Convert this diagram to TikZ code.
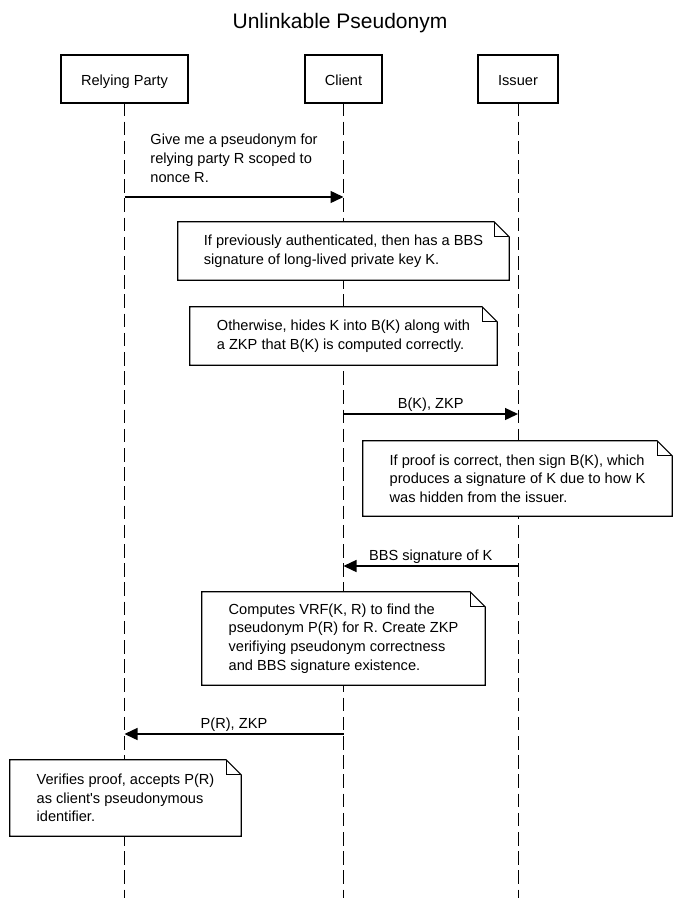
\documentclass[tikz,border=0pt]{standalone}
\usepackage{fontspec}
\setmainfont{Liberation Sans}
\usetikzlibrary{arrows.meta, positioning}

% outline of a note with a folded corner
\newcommand{\notefold}[1]{%
  \draw[notes] (#1.south west) -- (#1.north west) -- ([xshift=-15pt]#1.north east)
    -- ([yshift=-15pt]#1.north east) -- (#1.south east) -- cycle;
  \draw[notes] ([xshift=-15pt]#1.north east) |- ([yshift=-15pt]#1.north east);
}

\begin{document}
\begin{tikzpicture}[
        x=1pt, y=-1pt,
        font=\fontsize{14.6}{18.6}\selectfont,
        actor/.style={draw, line width=1.8pt, minimum height=48pt, inner xsep=20pt, text height=12pt, text depth=0pt},
        life/.style={line width=1pt, dash pattern=on 13.6pt off 5.6pt, dash phase=1.5pt},
        msg/.style={-{Triangle[length=13pt, width=12pt]}, line width=1.4pt},
        lbl/.style={anchor=base, yshift=6pt, inner sep=0pt, align=left},
        notes/.style={line width=1.2pt},
        notebox/.style={fill=white, align=left, inner sep=0pt}
    ]
        \useasboundingbox (0,0) rectangle (680,898);
        \node[font=\fontsize{21}{24}\selectfont, anchor=base] (title) at (340,28) {Unlinkable Pseudonym};

        % participants
        \node[actor] (rp) at (124.5,79) {Relying Party};
        \node[actor] (cl) at (343.5,79) {Client};
        \node[actor] (is) at (518,79)   {Issuer};

        \coordinate (bottom) at (0,898);
        \draw[life] (rp.south) -- (rp.south |- bottom);
        \draw[life] (cl.south) -- (cl.south |- bottom);
        \draw[life] (is.south) -- (is.south |- bottom);

        % messages
        \coordinate (m1) at (0,197);
        \coordinate (m2) at (0,414);
        \coordinate (m3) at (0,566);
        \coordinate (m4) at (0,734);
        \draw[msg] (rp |- m1) -- node[lbl, anchor=south, yshift=8pt]{Give me a pseudonym for\\relying party R scoped to\\nonce R.} (cl |- m1);
        \draw[msg] (cl |- m2) -- node[lbl]{B(K), ZKP} (is |- m2);
        \draw[msg] (is |- m3) -- node[lbl]{BBS signature of K} (cl |- m3);
        \draw[msg] (cl |- m4) -- node[lbl]{P(R), ZKP} (rp |- m4);

        % notes
        \node[notebox, minimum width=331pt, minimum height=58pt] (n1) at (343.5,251)
            {If previously authenticated, then has a BBS\\signature of long-lived private key K.};
        \notefold{n1}
        \node[notebox, minimum width=307pt, minimum height=58pt] (n2) at (343.5,336)
            {Otherwise, hides K into B(K) along with\\a ZKP that B(K) is computed correctly.};
        \notefold{n2}
        \node[notebox, minimum width=309pt, minimum height=75pt] (n3) at (517.5,478.5)
            {If proof is correct, then sign B(K), which\\produces a signature of K due to how K\\was hidden from the issuer.};
        \notefold{n3}
        \node[notebox, minimum width=283pt, minimum height=93pt] (n4) at (343.5,638.5)
            {Computes VRF(K, R) to find the\\pseudonym P(R) for R. Create ZKP\\verifiying pseudonym correctness\\and BBS signature existence.};
        \notefold{n4}
        \node[notebox, minimum width=231pt, minimum height=76pt] (n5) at (125.5,798)
            {Verifies proof, accepts P(R)\\as client\textquotesingle s pseudonymous\\identifier.};
        \notefold{n5}
    \end{tikzpicture}
\end{document}
